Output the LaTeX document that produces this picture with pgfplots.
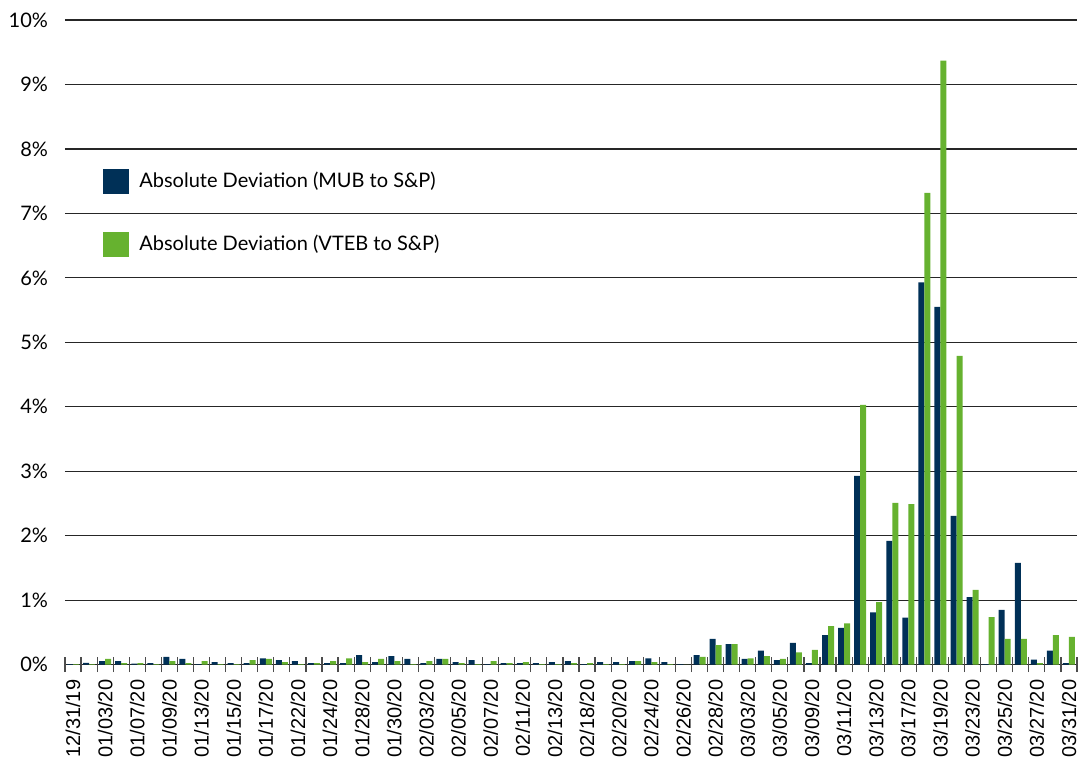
\documentclass[border=0pt]{standalone}
\usepackage{fontspec}
\setmainfont{Lato}
\newfontfamily\arialf{Liberation Sans}
\usepackage{pgfplots}
\pgfplotsset{compat=1.18}
\usepackage{pgfplotstable}
\definecolor{navy}{HTML}{003057}
\definecolor{lgreen}{HTML}{66B22F}
\pgfplotstableread{
x mub vteb
0 0.010 0.010
1 0.030 0.010
2 0.057 0.090
3 0.057 0.026
4 0.015 0.026
5 0.026 0.010
6 0.120 0.057
7 0.090 0.026
8 0.010 0.057
9 0.040 0.010
10 0.026 0.010
11 0.026 0.070
12 0.100 0.090
13 0.070 0.040
14 0.057 0.010
15 0.026 0.026
16 0.026 0.057
17 0.026 0.100
18 0.150 0.040
19 0.040 0.090
20 0.135 0.057
21 0.090 0.010
22 0.026 0.057
23 0.090 0.090
24 0.040 0.026
25 0.070 0.010
26 0.010 0.057
27 0.026 0.026
28 0.026 0.040
29 0.026 0.010
30 0.040 0.010
31 0.057 0.026
32 0.010 0.026
33 0.040 0.010
34 0.040 0.010
35 0.057 0.057
36 0.100 0.040
37 0.040 0.010
38 0.010 0.003
39 0.150 0.120
40 0.400 0.305
41 0.320 0.320
42 0.090 0.100
43 0.220 0.135
44 0.070 0.090
45 0.340 0.190
46 0.026 0.230
47 0.460 0.600
48 0.570 0.640
49 2.930 4.030
50 0.810 0.970
51 1.920 2.510
52 0.730 2.490
53 5.930 7.320
54 5.550 9.370
55 2.310 4.790
56 1.050 1.160
57 0.010 0.740
58 0.850 0.400
59 1.580 0.400
60 0.080 0.026
61 0.220 0.460
62 0.026 0.430
}\data
\begin{document}
\begin{tikzpicture}
\useasboundingbox (0,0) rectangle (544pt,384pt);
\begin{axis}[
  at={(32.5pt,51.65pt)}, anchor=south west,
  scale only axis, width=506pt, height=322.35pt,
  ybar=0pt, bar width=3pt,
  xmin=-0.5, xmax=62.5, ymin=0, ymax=10,
  axis lines*=left,
  y axis line style={draw=none},
  x axis line style={black!85, line width=0.7pt, -},
  ytick={0,...,10},
  yticklabels={0\%,1\%,2\%,3\%,4\%,5\%,6\%,7\%,8\%,9\%,10\%},
  ymajorgrids, grid style={black!85, line width=0.6pt},
  major tick length=0pt,
  xtick={0,2,...,62},
  xticklabels={12/31/19,01/03/20,01/07/20,01/09/20,01/13/20,01/15/20,01/17/20,01/22/20,01/24/20,01/28/20,01/30/20,02/03/20,02/05/20,02/07/20,02/11/20,02/13/20,02/18/20,02/20/20,02/24/20,02/26/20,02/28/20,03/03/20,03/05/20,03/09/20,03/11/20,03/13/20,03/17/20,03/19/20,03/23/20,03/25/20,03/27/20,03/31/20},
  extra x ticks={-0.5,0.5,...,62.5},
  extra x tick labels={},
  extra x tick style={major tick length=7.5pt, tick align=center, tick style={draw=black!70, line width=0.6pt}, grid=none},
  xticklabel style={yshift=-4pt, rotate=90, anchor=east, font=\arialf\fontsize{10}{12}\selectfont},
  yticklabel style={font=\fontsize{10}{12}\selectfont, xshift=-5pt},
  legend style={at={(rel axis cs:0.0375,0.7705)}, anchor=north west, draw=none, fill=none, inner sep=0pt, row sep=18pt, font=\fontsize{10}{12}\selectfont, /tikz/every odd column/.append style={column sep=3pt}},
  legend cell align=left,
  legend image code/.code={\fill[#1] (0pt,-6.25pt) rectangle (13pt,6.25pt);},
]
\addplot[fill=navy, draw=none] table[x=x, y=mub] {\data};
\addplot[fill=lgreen, draw=none] table[x=x, y=vteb] {\data};
\legend{Absolute Deviation (MUB to S\&P), Absolute Deviation (VTEB to S\&P)}
\end{axis}
\end{tikzpicture}
\end{document}
